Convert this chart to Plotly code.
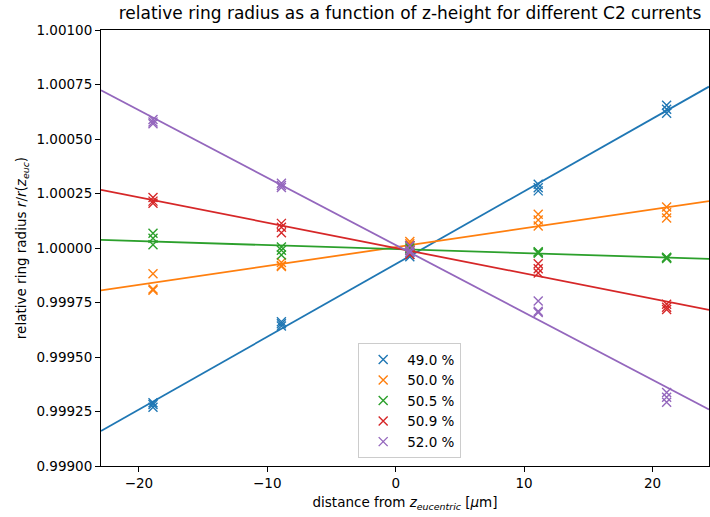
import numpy as np
import plotly.graph_objects as go

# ---- data ----
z_positions = [-18.9, -8.9, 1.1, 11.1, 21.1]
labels = ["49.0 %", "50.0 %", "50.5 %", "50.9 %", "52.0 %"]
colors = ["#1f77b4", "#ff7f0e", "#2ca02c", "#d62728", "#9467bd"]

# three repeated measurements per z position (rows: z positions)
r_49_0 = [[0.999270, 0.999282, 0.999290],
          [0.999642, 0.999652, 0.999662],
          [0.999960, 0.999970, 0.999978],
          [1.000292, 1.000276, 1.000262],
          [1.000655, 1.000636, 1.000618]]
r_50_0 = [[0.999882, 0.999806, 0.999812],
          [0.999933, 0.999915, 0.999920],
          [1.000020, 1.000030, 1.000010],
          [1.000155, 1.000128, 1.000101],
          [1.000188, 1.000162, 1.000138]]
r_50_5 = [[1.000068, 1.000045, 1.000015],
          [1.000005, 0.999990, 0.999968],
          [1.000000, 0.999990, 1.000010],
          [0.999980, 0.999976, 0.999983],
          [0.999955, 0.999952, 0.999958]]
r_50_9 = [[1.000232, 1.000215, 1.000205],
          [1.000113, 1.000095, 1.000070],
          [1.000010, 0.999970, 0.999990],
          [0.999928, 0.999905, 0.999885],
          [0.999742, 0.999728, 0.999718]]
r_52_0 = [[1.000589, 1.000578, 1.000570],
          [1.000297, 1.000287, 1.000278],
          [1.000010, 0.999980, 0.999990],
          [0.999757, 0.999704, 0.999710],
          [0.999337, 0.999315, 0.999292]]
series = [r_49_0, r_50_0, r_50_5, r_50_9, r_52_0]

x_range = [-22.95, 24.4]
x_ticks = [-20, -10, 0, 10, 20]
y_ticks = [0.99900, 0.99925, 0.99950, 0.99975, 1.00000, 1.00025, 1.00050, 1.00075, 1.00100]

fig = go.Figure()
for lab, col, vals in zip(labels, colors, series):
    xs, ys = [], []
    for z, row in zip(z_positions, vals):
        for v in row:
            xs.append(z)
            ys.append(v)
    # linear fit line
    k, d = np.polyfit(xs, ys, 1)
    xl = np.array(x_range)
    fig.add_trace(go.Scatter(x=xl, y=k * xl + d, mode="lines",
                             line=dict(color=col, width=1.8),
                             showlegend=False, hoverinfo="skip"))
    fig.add_trace(go.Scatter(x=xs, y=ys, mode="markers", name=lab,
                             marker=dict(symbol="x-thin", size=9,
                                         line=dict(width=1.4, color=col),
                                         color=col)))

font = "DejaVu Sans"
fig.update_layout(
    width=710, height=517,
    margin=dict(l=101, r=1, t=30, b=51),
    paper_bgcolor="white", plot_bgcolor="white",
    font=dict(family=font, size=13.5, color="black"),
    title=dict(text="relative ring radius as a function of z-height for different C2 currents",
               x=410 / 710, xanchor="center", y=1 - 13 / 517, yanchor="middle",
               font=dict(size=17, family=font, color="black")),
    showlegend=True,
    legend=dict(x=0.423, y=0.018, xanchor="left", yanchor="bottom",
                bgcolor="rgba(255,255,255,0.8)", bordercolor="#cccccc", borderwidth=1,
                font=dict(size=13.5, family=font), tracegroupgap=0,
                itemwidth=38),
)
fig.update_xaxes(range=x_range, showline=True, linecolor="black", linewidth=1, mirror=True,
                 ticks="outside", ticklen=5, tickwidth=1, tickcolor="black",
                 tickvals=x_ticks, ticktext=[str(t).replace("-", "\u2212") for t in x_ticks],
                 showgrid=False, zeroline=False,
                 title=dict(text="distance from <i>z</i><sub><i>eucentric</i></sub> [<i>\u03bc</i>m]",
                            standoff=7, font=dict(size=13.5)))
fig.update_yaxes(range=[0.999, 1.001], showline=True, linecolor="black", linewidth=1, mirror=True,
                 ticks="outside", ticklen=5, tickwidth=1, tickcolor="black",
                 tickvals=y_ticks, ticktext=[f"{v:.5f}" for v in y_ticks],
                 showgrid=False, zeroline=False,
                 title=dict(text="relative ring radius <i>r</i>/<i>r</i>(<i>z</i><sub><i>euc</i></sub>)",
                            standoff=6, font=dict(size=13.5)))

fig.write_html("out.html", config={"displayModeBar": False},
               post_script="document.body.style.margin='0';document.body.style.overflow='hidden';")
